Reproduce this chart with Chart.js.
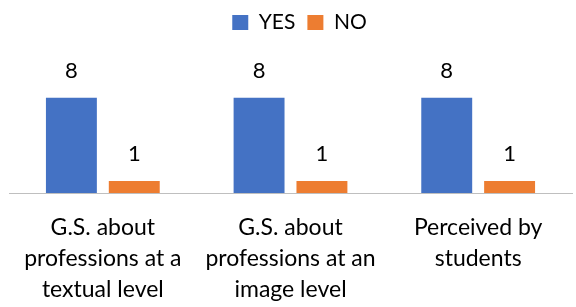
<!DOCTYPE html>
<html>
<head>
<meta charset="utf-8">
<script src="https://cdn.jsdelivr.net/npm/chart.js@4/dist/chart.umd.min.js"></script>
<style>
  html, body { margin: 0; padding: 0; background: #fff; }
  #wrap { width: 576px; height: 307px; }
</style>
</head>
<body>
<div id="wrap"><canvas id="bars"></canvas></div>
<script>
const categories = [
  ['G.S. about', 'professions at a', 'textual level'],
  ['G.S. about', 'professions at an', 'image level'],
  ['Perceived by', 'students']
];
const yesValues = [8, 8, 8];
const noValues = [1, 1, 1];

const FONT = 'Lato, "Open Sans", sans-serif';

// draws the value above each bar
const valueLabels = {
  id: 'valueLabels',
  afterLayout(chart) {
    // legend sits a bit right of centre in the original
    if (chart.legend) {
      chart.legend.left += 9;
      chart.legend.right += 9;
    }
  },
  afterDatasetsDraw(chart) {
    const ctx = chart.ctx;
    ctx.save();
    ctx.font = '22px ' + FONT;
    ctx.fillStyle = '#000';
    ctx.textAlign = 'center';
    ctx.textBaseline = 'middle';
    chart.data.datasets.forEach((ds, i) => {
      chart.getDatasetMeta(i).data.forEach((bar, j) => {
        ctx.fillText(ds.data[j], bar.x, bar.y - 27);
      });
    });
    ctx.restore();
  }
};

const data = {
  labels: categories,
  datasets: [
    { label: 'YES', data: yesValues, backgroundColor: '#4472C4' },
    { label: 'NO', data: noValues, backgroundColor: '#ED7D31' }
  ]
};

const config = {
  type: 'bar',
  data: data,
  plugins: [valueLabels],
  options: {
    responsive: false,
    animation: false,
    devicePixelRatio: 1,
    categoryPercentage: 0.67,
    barPercentage: 0.81,
    layout: { padding: { left: 9, right: 4, top: 0, bottom: 3 } },
    plugins: {
      legend: {
        position: 'top',
        labels: {
          boxWidth: 16,
          boxHeight: 15,
          color: '#000',
          font: { family: FONT, size: 21 },
          padding: 12
        }
      },
      tooltip: { enabled: false }
    },
    scales: {
      x: {
        grid: { display: false },
        border: { display: true, color: '#bfbfbf', width: 1 },
        afterFit(scale) { scale.height = 111; },
        ticks: {
          color: '#000',
          padding: 11,
          font: { family: FONT, size: 23, lineHeight: 1.35 },
          maxRotation: 0,
          autoSkip: false
        }
      },
      y: {
        display: false,
        min: 0,
        max: 12.6
      }
    }
  }
};

const cv = document.getElementById('bars');
cv.width = 576;
cv.height = 307;
var myChart = new Chart(cv, config);
</script>
</body>
</html>
